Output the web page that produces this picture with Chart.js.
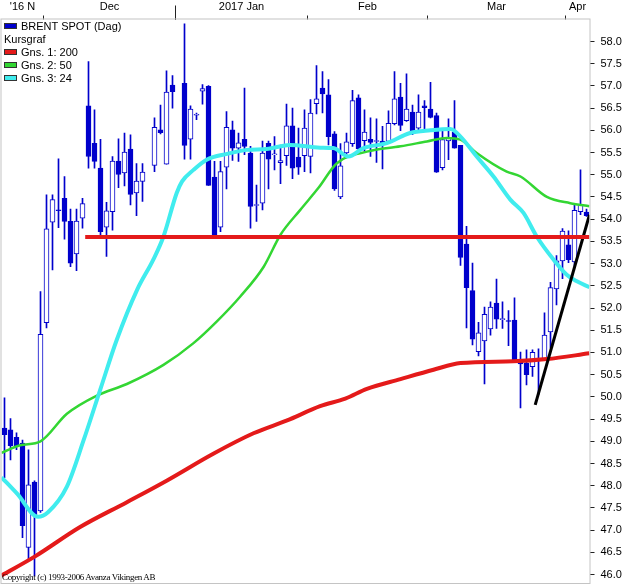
<!DOCTYPE html>
<html lang="sv">
<head>
<meta charset="UTF-8">
<title>BRENT SPOT (Dag)</title>
<script src="https://cdn.jsdelivr.net/npm/chart.js"></script>
<style>
  body { margin: 0; background: #fff; }
  #wrap { position: relative; width: 625px; height: 584px; }
  #legend { position: absolute; left: 4px; top: 20px; font: 11px "Liberation Sans", Arial, sans-serif; color: #000; }
  .row { position: relative; height: 13px; line-height: 13px; white-space: nowrap; }
  .box { position: absolute; left: 0; top: 3px; width: 11px; height: 4px; border: 1px solid #333; }
  .txt { position: absolute; top: 0; }
  #copy { position: absolute; left: 2px; top: 572px; font: 9px "Liberation Serif", "Times New Roman", serif; letter-spacing: -0.35px; white-space: nowrap; color: #000; }
</style>
</head>
<body>
<div id="wrap">
  <canvas id="chart" width="625" height="584"></canvas>
  <div id="legend"></div>
  <div id="copy">Copyright (c) 1993-2006 Avanza Vikingen AB</div>
</div>
<script>
// trading days shown on the chart (Dec 26 and Jan 2 have no quote)
const days = [
  '2016-11-22','2016-11-23','2016-11-24','2016-11-25','2016-11-28','2016-11-29','2016-11-30',
  '2016-12-01','2016-12-02','2016-12-05','2016-12-06','2016-12-07','2016-12-08','2016-12-09','2016-12-12','2016-12-13','2016-12-14','2016-12-15',
  '2016-12-16','2016-12-19','2016-12-20','2016-12-21','2016-12-22','2016-12-23','2016-12-26','2016-12-27','2016-12-28','2016-12-29','2016-12-30',
  '2017-01-02','2017-01-03','2017-01-04','2017-01-05','2017-01-06','2017-01-09','2017-01-10','2017-01-11','2017-01-12','2017-01-13','2017-01-16',
  '2017-01-17','2017-01-18','2017-01-19','2017-01-20','2017-01-23','2017-01-24','2017-01-25','2017-01-26','2017-01-27','2017-01-30','2017-01-31',
  '2017-02-01','2017-02-02','2017-02-03','2017-02-06','2017-02-07','2017-02-08','2017-02-09','2017-02-10','2017-02-13','2017-02-14','2017-02-15',
  '2017-02-16','2017-02-17','2017-02-20','2017-02-21','2017-02-22','2017-02-23','2017-02-24','2017-02-27','2017-02-28',
  '2017-03-01','2017-03-02','2017-03-03','2017-03-06','2017-03-07','2017-03-08','2017-03-09','2017-03-10','2017-03-13','2017-03-14','2017-03-15',
  '2017-03-16','2017-03-17','2017-03-20','2017-03-21','2017-03-22','2017-03-23','2017-03-24','2017-03-27','2017-03-28','2017-03-29','2017-03-30','2017-03-31',
  '2017-04-03','2017-04-04','2017-04-05','2017-04-06'
];

const openV = [
  49.30, 49.26, 49.09, 48.96, 46.61, 48.08, 47.43,
  51.67, 53.93, 54.21, 54.47, 53.95, 53.22, 54.02, 56.55, 55.71, 55.15,
  53.82, 54.17, 55.31, 55.04, 55.58, 54.59, 54.85, null, 55.21, 56.01,
  55.24, 57.02, null, 57.06, 55.80, 56.34, 56.88, 56.99, 54.95, 53.82,
  55.17, 56.01, 55.60, 55.80, 55.49, 54.31, 54.36, 55.71, 55.45, 55.27,
  55.43, 56.10, 55.40, 55.43, 55.41, 56.60, 56.95, 56.80, 55.92, 54.50,
  55.49, 55.70, 56.73, 55.77, 55.80, 55.75, 55.76, 55.75, 56.15, 56.75,
  56.22, 56.41, 56.05, 56.55, 56.48, 56.33, 55.16, 55.76, 55.96, 55.66,
  53.44, 52.39, 51.02, 51.26, 51.53, 52.11, 51.74, 51.72, 51.73, 50.81,
  50.76, 50.68, 50.87, 50.85, 51.46, 52.43, 53.06, 53.42, 53.04, 54.17, 54.16
];
const highV = [
  49.98, 49.51, 49.19, 49.03, 48.81, 48.11, 52.37,
  54.55, 54.55, 55.36, 54.96, 54.23, 54.23, 54.47, 57.55, 56.46, 55.80,
  54.38, 55.41, 55.81, 55.94, 55.90, 55.25, 55.25, null, 56.28, 56.57,
  57.34, 57.23, null, 58.40, 56.55, 56.39, 57.03, 57.01, 55.30, 55.30,
  56.42, 56.21, 55.94, 56.95, 55.64, 54.77, 55.76, 55.76, 55.86, 55.67,
  56.59, 56.50, 56.05, 56.46, 56.69, 57.46, 57.32, 57.14, 55.97, 55.70,
  55.94, 56.90, 56.80, 56.46, 56.28, 56.26, 56.09, 56.44, 57.32, 57.06,
  57.27, 56.57, 56.80, 56.67, 57.08, 56.39, 55.98, 56.26, 56.67, 55.66,
  53.84, 53.01, 51.68, 52.02, 52.14, 52.65, 52.14, 51.94, 52.23, 51.01,
  51.06, 51.06, 51.08, 51.89, 52.58, 53.18, 53.79, 53.74, 54.31, 55.11, 54.23
];
const lowV = [
  48.18, 48.58, 48.81, 46.83, 46.33, 45.97, 47.40,
  51.55, 52.86, 53.81, 53.55, 52.93, 52.84, 53.80, 55.15, 55.15, 53.57,
  53.16, 53.75, 54.71, 54.75, 54.32, 54.08, 54.40, null, 55.07, 55.92,
  55.24, 56.50, null, 55.35, 55.35, 56.24, 56.59, 54.76, 53.61, 53.72,
  54.68, 55.32, 55.30, 55.45, 53.80, 53.95, 54.21, 54.68, 55.11, 54.80,
  55.21, 54.91, 55.01, 55.07, 55.04, 56.37, 56.39, 55.67, 54.65, 54.46,
  55.38, 55.64, 55.50, 55.52, 55.41, 55.28, 55.13, 55.70, 56.12, 55.99,
  56.20, 55.90, 55.96, 56.01, 56.28, 55.05, 55.11, 55.34, 55.60, 52.96,
  51.55, 51.17, 50.92, 50.29, 51.39, 51.54, 51.54, 51.15, 50.77, 49.75,
  50.27, 50.46, 50.05, 50.85, 51.10, 52.07, 52.66, 53.02, 52.91, 54.10, 54.06
];
const closeV = [
  49.15, 48.90, 48.88, 47.10, 48.02, 47.34, 51.41,
  53.78, 54.44, 54.19, 53.95, 53.01, 53.96, 54.35, 55.41, 55.30, 53.72,
  54.19, 55.31, 55.01, 55.51, 54.56, 54.86, 55.06, null, 56.07, 55.95,
  56.86, 56.87, null, 55.66, 56.48, 56.36, 56.94, 54.76, 53.63, 55.07,
  56.07, 55.60, 55.72, 55.64, 54.29, 54.33, 55.49, 55.35, 55.47, 55.32,
  56.10, 55.15, 55.17, 56.05, 56.39, 56.71, 56.82, 55.86, 54.68, 55.20,
  55.74, 56.67, 55.58, 55.96, 55.73, 55.77, 55.71, 56.16, 56.71, 56.11,
  56.48, 55.97, 56.41, 56.51, 56.29, 55.06, 55.79, 55.82, 55.60, 53.14,
  52.46, 51.30, 51.44, 51.86, 52.02, 51.75, 51.76, 51.70, 50.84, 50.74,
  50.50, 51.00, 50.85, 51.39, 52.46, 53.06, 53.73, 53.09, 54.20, 54.32, 54.08
];

// moving averages (x = trading day index)
const ma200X = [-0.5, 5.1, 12.6, 20.4, 27.1, 34.8, 41.5, 47.1, 52.6, 56.8, 60.4, 66.0, 71.5, 76.0, 84.8, 90.4, 97.5];
const ma200Y = [45.98, 46.41, 47.07, 47.63, 48.12, 48.72, 49.18, 49.47, 49.79, 49.96, 50.18, 50.40, 50.61, 50.76, 50.80, 50.85, 50.98];
const ma50X = [-0.5, 2.6, 6.0, 10.4, 15.4, 20.4, 26.5, 31.5, 35.4, 39.3, 43.2, 46.0, 49.3, 52.3, 55.4, 60.4, 66.0, 70.4, 73.7, 76.0, 78.7, 83.7, 86.0, 90.4, 94.3, 97.5];
const ma50Y = [48.74, 48.91, 49.00, 49.62, 50.03, 50.29, 50.72, 51.21, 51.70, 52.26, 52.93, 53.65, 54.21, 54.70, 55.26, 55.52, 55.64, 55.75, 55.83, 55.79, 55.49, 55.07, 54.96, 54.50, 54.36, 54.29];
const ma24X = [-0.5, 2.1, 5.6, 7.3, 10.4, 13.2, 16.0, 18.7, 22.1, 24.8, 26.5, 28.7, 29.6, 31.5, 33.7, 37.1, 40.4, 43.7, 47.6, 52.6, 54.8, 57.3, 59.8, 63.7, 67.6, 71.0, 74.3, 76.0, 78.7, 81.5, 84.3, 86.5, 88.7, 91.5, 93.7, 95.4, 97.5];
const ma24Y = [48.19, 47.82, 47.30, 47.41, 47.98, 49.03, 50.18, 51.28, 52.41, 53.09, 53.61, 54.59, 54.85, 55.11, 55.34, 55.47, 55.56, 55.58, 55.67, 55.61, 55.60, 55.41, 55.60, 55.71, 55.94, 56.00, 56.03, 55.86, 55.41, 54.96, 54.44, 54.14, 53.61, 53.09, 52.75, 52.60, 52.47];

// drawn lines: horizontal support and rising trend line
const supportX = [13.45, 97.5];
const supportY = [53.60, 53.60];
const trendX = [88.45, 97.5];
const trendY = [49.82, 54.10];

// top axis: first trading-day index of each month
const monthNames = ["'16 N", 'Dec', '2017 Jan', 'Feb', 'Mar', 'Apr'];
const monthStart = [0, 7, 29, 51, 71, 94];

const legendNames = ['BRENT SPOT (Dag)', 'Kursgraf', 'Gns. 1: 200', 'Gns. 2: 50', 'Gns. 3: 24'];

const BLUE = '#0000cc';
const RED = '#e41a1a';
const GREEN = '#33d633';
const CYAN = '#40ecee';
const FONT = { family: '"Liberation Sans", Arial, sans-serif', size: 11 };

// legend (HTML overlay)
const legendColors = [BLUE, null, RED, GREEN, CYAN];
const legendEl = document.getElementById('legend');
legendNames.forEach((name, i) => {
  const row = document.createElement('div');
  row.className = 'row';
  if (legendColors[i]) {
    const b = document.createElement('span');
    b.className = 'box';
    b.style.background = legendColors[i];
    row.appendChild(b);
  }
  const t = document.createElement('span');
  t.className = 'txt';
  t.style.left = legendColors[i] ? '17px' : '0px';
  t.textContent = name;
  row.appendChild(t);
  legendEl.appendChild(row);
});

// month tick marks (boundaries) and month label positions
const nDays = days.length;
const bounds = monthStart.slice(1).map(s => s - 0.5);
const centers = monthStart.map((s, i) => ((s + (monthStart[i + 1] ?? nDays)) / 2) - 0.5);
const yearBound = 28.5;

const toXY = (xs, ys) => xs.map((x, i) => ({ x: x, y: ys[i] }));

const frame = {
  id: 'frame',
  afterDatasetsDraw(chart) {
    const { ctx, chartArea: a } = chart;
    ctx.save();
    ctx.strokeStyle = '#c4c4c4';
    ctx.lineWidth = 1;
    ctx.strokeRect(a.left - 0.5, a.top - 0.5, a.right - a.left + 1, a.bottom - a.top + 1);
    ctx.restore();
  }
};

new Chart(document.getElementById('chart'), {
  type: 'bar',
  data: {
    labels: days,
    datasets: [
      {
        label: 'support', type: 'line', xAxisID: 'xTop', data: toXY(supportX, supportY),
        borderColor: RED, borderWidth: 4, pointRadius: 0, order: 0
      },
      {
        label: 'trend', type: 'line', xAxisID: 'xTop', data: toXY(trendX, trendY),
        borderColor: '#000', borderWidth: 3, pointRadius: 0, order: 0
      },
      {
        label: 'Gns. 3: 24', type: 'line', xAxisID: 'xTop', data: toXY(ma24X, ma24Y),
        borderColor: CYAN, borderWidth: 4, pointRadius: 0, cubicInterpolationMode: 'monotone', order: 1
      },
      {
        label: 'Gns. 2: 50', type: 'line', xAxisID: 'xTop', data: toXY(ma50X, ma50Y),
        borderColor: GREEN, borderWidth: 2.5, pointRadius: 0, cubicInterpolationMode: 'monotone', order: 1
      },
      {
        label: 'Gns. 1: 200', type: 'line', xAxisID: 'xTop', data: toXY(ma200X, ma200Y),
        borderColor: RED, borderWidth: 4, pointRadius: 0, cubicInterpolationMode: 'monotone', order: 1
      },
      {
        label: 'body', xAxisID: 'x',
        data: openV.map((o, i) => o === null ? null : [o, closeV[i]]),
        backgroundColor: ctx => closeV[ctx.dataIndex] < openV[ctx.dataIndex] ? BLUE : '#ffffff',
        borderColor: BLUE, borderWidth: 1, borderSkipped: false,
        barThickness: 5, grouped: false, order: 2
      },
      {
        label: 'wick', xAxisID: 'x',
        data: lowV.map((l, i) => l === null ? null : [l, highV[i]]),
        backgroundColor: BLUE, borderWidth: 0,
        barThickness: 1, grouped: false, order: 3
      }
    ]
  },
  options: {
    responsive: false,
    animation: false,
    events: [],
    layout: { padding: { left: 1.5, right: 0, top: 0, bottom: 1 } },
    plugins: { legend: { display: false }, tooltip: { enabled: false } },
    scales: {
      x: { type: 'category', display: false, offset: true },
      xTop: {
        type: 'linear', position: 'top', min: -0.5, max: nDays - 0.5, offset: false,
        afterBuildTicks: s => {
          s.ticks = bounds.concat(centers).sort((a, b) => a - b).map(v => ({ value: v }));
        },
        afterFit: s => { s.height = 19.5; s.paddingLeft = 0; s.paddingRight = 0; },
        ticks: {
          autoSkip: false, maxRotation: 0, padding: -8, color: '#000', font: FONT,
          callback: v => {
            const k = centers.indexOf(v);
            return k >= 0 ? monthNames[k] : '';
          }
        },
        grid: {
          offset: false, drawOnChartArea: false, tickLength: 14, tickWidth: 1,
          tickColor: c => (c.tick && bounds.includes(c.tick.value)) ? '#222' : 'rgba(0,0,0,0)',
          tickBorderDash: c => (c.tick && c.tick.value === yearBound) ? [] : [0, 10, 4, 0]
        },
        border: { display: false }
      },
      y: {
        position: 'right', min: 45.81, max: 58.495,
        afterFit: s => { s.width = 35.5; s.paddingTop = 0; s.paddingBottom = 0; },
        ticks: {
          stepSize: 0.5, includeBounds: false, autoSkip: false, padding: 6,
          color: '#000', font: FONT, callback: v => v.toFixed(1)
        },
        grid: { drawOnChartArea: false, tickLength: 5, tickColor: '#222' },
        border: { display: false }
      }
    }
  },
  plugins: [frame]
});
</script>
</body>
</html>
